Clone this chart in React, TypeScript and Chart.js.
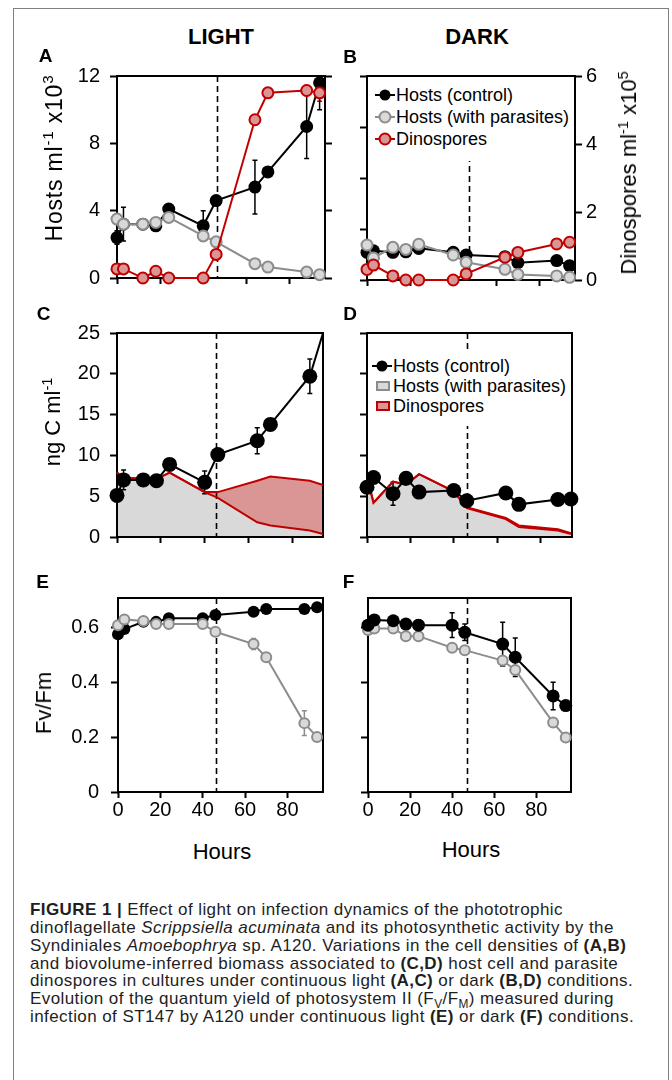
import React, { useEffect, useRef } from "react";
import { Chart, registerables } from "chart.js";

Chart.register(...registerables);

const FONT = "'Liberation Sans', Arial, Helvetica, sans-serif";

// ---------- data ----------
const hours = [0, 3, 12, 18, 24, 40, 46, 64, 70, 88, 94];

// A: cell densities, light
const lightHostsControl = [2.4, 3.2, 3.2, 3.1, 4.1, 3.1, 4.6, 5.4, 6.3, 9.0, 11.6];
const lightHostsControlErr = [0.4, 1.0, 0.2, 0.3, 0.1, 0.9, 0.2, 1.6, 0.2, 1.9, 1.6];
const lightHostsParasites = [3.5, 3.2, 3.2, 3.3, 3.6, 2.5, 2.15, 0.85, 0.65, 0.35, 0.2];
const lightDinospores = [0.27, 0.27, 0, 0.2, 0, 0, 0.7, 4.7, 5.5, 5.57, 5.5];
const lightDinosporesErr = [0, 0, 0, 0, 0, 0, 0, 0.15, 0, 0.15, 0.25];

// B: cell densities, dark
const darkHostsControl = [1.63, 1.72, 1.63, 1.66, 1.86, 1.63, 1.47, 1.37, 1.02, 1.14, 0.84];
const darkHostsParasites = [2.06, 1.3, 1.92, 1.8, 2.1, 1.47, 1.04, 0.63, 0.33, 0.24, 0.16];
const darkDinospores = [0.31, 0.44, 0.12, 0, 0, 0, 0.18, 0.67, 0.81, 1.06, 1.11];

// C: biomass, light
const lightBiomassControl = [5.1, 7.0, 7.0, 6.9, 8.9, 6.7, 10.1, 11.8, 13.8, 19.7, 25];
const lightBiomassControlErr = [0, 1.2, 0, 0, 0.3, 1.4, 0, 1.6, 0, 2.1, 0];
const lightBiomassParasites = [7.9, 7.2, 7.2, 7.1, 7.9, 5.5, 4.8, 1.8, 1.4, 0.8, 0.37];
const lightBiomassDinospores = [0, 0, 0, 0, 0, 0, 0.7, 5.1, 6.0, 6.1, 6.0];

// D: biomass, dark
const darkBiomassControl = [6.1, 7.3, 5.3, 7.2, 5.5, 5.7, 4.45, 5.4, 4.0, 4.6, 4.65];
const darkBiomassControlErr = [0, 0, 1.4, 0.7, 0, 0, 0, 0, 0, 0, 0];
const darkBiomassParasites = [7.4, 4.2, 6.8, 6.4, 7.7, 5.6, 3.55, 2.2, 1.22, 0.8, 0.37];
const darkBiomassDinospores = [0, 0, 0, 0, 0, 0, 0.1, 0.15, 0.2, 0.15, 0.1];

// E: Fv/Fm, light
const lightFvFmControl = [0.575, 0.594, 0.62, 0.62, 0.633, 0.633, 0.645, 0.657, 0.667, 0.667, 0.673];
const lightFvFmControlErr = [0, 0, 0, 0, 0.01, 0, 0, 0, 0, 0, 0];
const lightFvFmParasites = [0.608, 0.629, 0.623, 0.612, 0.612, 0.612, 0.584, 0.539, 0.491, 0.251, 0.2];
const lightFvFmParasitesErr = [0, 0, 0, 0, 0.012, 0.015, 0, 0.02, 0, 0.045, 0];

// F: Fv/Fm, dark
const darkFvFmControl = [0.608, 0.627, 0.624, 0.612, 0.608, 0.608, 0.582, 0.539, 0.491, 0.35, 0.315];
const darkFvFmControlErr = [0, 0, 0, 0, 0.02, 0.045, 0.03, 0.08, 0.07, 0.05, 0];
const darkFvFmParasites = [0.59, 0.596, 0.596, 0.568, 0.568, 0.526, 0.517, 0.479, 0.445, 0.253, 0.199];
const darkFvFmParasitesErr = [0, 0, 0, 0, 0, 0, 0, 0, 0.012, 0, 0];

// time of the dashed marker line in each panel
const markerHourA = 46.4;
const markerHourB = 47.5;
const markerHourC = 45.2;
const markerHourD = 46.2;
const markerHourE = 46.1;
const markerHourF = 46.9;

// ---------- styles ----------
const BLACK = "#000000";
const GREY_LINE = "#8c8c8c";
const GREY_FILL = "#d9d9d9";
const RED = "#c00000";
const RED_FILL = "#d99694";

const pts = (ys: number[]) => hours.map((h, i) => ({ x: h, y: ys[i] }));

function blackSeries(label: string, ys: number[], errs: number[] | null, r: any, yAxisID = "y") {
  return {
    label, data: pts(ys), yAxisID, borderColor: BLACK, backgroundColor: BLACK, borderWidth: 2,
    pointRadius: r, pointBackgroundColor: BLACK, pointBorderColor: BLACK, pointBorderWidth: 0,
    fill: false, clip: false, errors: errs, errorColor: BLACK,
  };
}
function greySeries(label: string, ys: number[], errs: number[] | null, r: number, yAxisID = "y") {
  return {
    label, data: pts(ys), yAxisID, borderColor: GREY_LINE, backgroundColor: GREY_FILL, borderWidth: 2,
    pointRadius: r, pointBackgroundColor: GREY_FILL, pointBorderColor: GREY_LINE, pointBorderWidth: 2,
    fill: false, clip: false, errors: errs, errorColor: GREY_LINE,
  };
}
function redSeries(label: string, ys: number[], errs: number[] | null, r: number, yAxisID = "y2") {
  return {
    label, data: pts(ys), yAxisID, borderColor: RED, backgroundColor: RED_FILL, borderWidth: 2,
    pointRadius: r, pointBackgroundColor: RED_FILL, pointBorderColor: RED, pointBorderWidth: 2,
    fill: false, clip: false, errors: errs, errorColor: RED,
  };
}

// ---------- plugins ----------
const framePlugin = {
  id: "frame",
  beforeDatasetsDraw(chart: any) {
    const { ctx, chartArea: a } = chart;
    ctx.save();
    ctx.strokeStyle = BLACK;
    ctx.lineWidth = 2;
    ctx.strokeRect(a.left, a.top, a.right - a.left, a.bottom - a.top);
    ctx.restore();
  },
};

const vlinePlugin = {
  id: "vline",
  beforeDatasetsDraw(chart: any, _args: any, opts: any) {
    if (!opts || opts.x == null) return;
    const { ctx, chartArea: a } = chart;
    const x = Math.round(chart.scales.x.getPixelForValue(opts.x)) + 0.5;
    ctx.save();
    ctx.strokeStyle = BLACK;
    ctx.lineWidth = 1.6;
    ctx.setLineDash([6, 4]);
    ctx.beginPath();
    ctx.moveTo(x, a.top);
    ctx.lineTo(x, a.bottom);
    ctx.stroke();
    ctx.restore();
  },
};

const errorPlugin = {
  id: "errorBars",
  beforeDatasetsDraw(chart: any) {
    const { ctx, chartArea: a } = chart;
    chart.data.datasets.forEach((ds: any, i: number) => {
      if (!ds.errors) return;
      const meta = chart.getDatasetMeta(i);
      const ys = chart.scales[meta.yAxisID];
      ctx.save();
      ctx.beginPath();
      ctx.rect(a.left - 10, a.top, a.right - a.left + 20, a.bottom - a.top);
      ctx.clip();
      ctx.strokeStyle = ds.errorColor || BLACK;
      ctx.lineWidth = 1.5;
      meta.data.forEach((el: any, j: number) => {
        const e = ds.errors[j];
        if (!e) return;
        const v = ds.data[j].y;
        const top = ys.getPixelForValue(v + e);
        const bot = ys.getPixelForValue(v - e);
        ctx.beginPath();
        ctx.moveTo(el.x, top); ctx.lineTo(el.x, bot);
        ctx.moveTo(el.x - 2.5, top); ctx.lineTo(el.x + 2.5, top);
        ctx.moveTo(el.x - 2.5, bot); ctx.lineTo(el.x + 2.5, bot);
        ctx.stroke();
      });
      ctx.restore();
    });
  },
};

// ---------- config builder ----------
type Rect = { l: number; t: number; w: number; h: number };
type Plot = { l: number; t: number; r: number; b: number };
type AxisSpec = { min: number; max: number; step: number; labels: boolean; padding?: number };
type PanelSpec = {
  canvas: Rect; plot: Plot; xMax: number; xLabels: boolean;
  y: AxisSpec; y2?: AxisSpec; vline: number; datasets: any[];
};

const tickFont = { family: FONT, size: 20 };

function yAxis(spec: AxisSpec, position: string, width: number) {
  return {
    type: "linear", position, min: spec.min, max: spec.max,
    afterFit: (s: any) => { s.width = width; },
    ticks: {
      stepSize: spec.step, includeBounds: false, display: spec.labels,
      font: tickFont, color: BLACK, padding: spec.padding ?? 10,
    },
    grid: { display: true, drawOnChartArea: false, drawTicks: true, tickLength: 7, tickWidth: 2, tickColor: BLACK },
    border: { display: false },
  };
}

function buildConfig(spec: PanelSpec) {
  const cr = spec.canvas.l + spec.canvas.w;
  const cb = spec.canvas.t + spec.canvas.h;
  const scales: any = {
    x: {
      type: "linear", min: 0, max: spec.xMax,
      afterFit: (s: any) => { s.height = cb - spec.plot.b; },
      ticks: {
        stepSize: 20, includeBounds: false, display: spec.xLabels, font: tickFont, color: BLACK,
        padding: 0, maxRotation: 0, autoSkip: false,
      },
      grid: { display: true, drawOnChartArea: false, drawTicks: true, tickLength: 6, tickWidth: 2, tickColor: BLACK },
      border: { display: false },
    },
    y: yAxis(spec.y, "left", spec.plot.l - spec.canvas.l),
  };
  if (spec.y2) scales.y2 = yAxis(spec.y2, "right", cr - spec.plot.r);
  return {
    type: "line",
    data: { datasets: spec.datasets },
    options: {
      responsive: false,
      animation: false,
      events: [],
      layout: {
        padding: { top: spec.plot.t - spec.canvas.t, left: 0, bottom: 0, right: spec.y2 ? 0 : cr - spec.plot.r },
      },
      elements: { line: { tension: 0 } },
      scales,
      plugins: {
        legend: { display: false },
        tooltip: { enabled: false },
        title: { display: false },
        filler: { drawTime: "beforeDatasetsDraw" },
        vline: { x: spec.vline },
      },
    },
    plugins: [framePlugin, vlinePlugin, errorPlugin],
  };
}

function Panel({ spec }: { spec: PanelSpec }) {
  const ref = useRef<HTMLCanvasElement>(null);
  useEffect(() => {
    const chart = new Chart(ref.current as any, buildConfig(spec) as any);
    return () => chart.destroy();
  }, []);
  const c = spec.canvas;
  return (
    <div style={{ position: "absolute", left: c.l, top: c.t, width: c.w, height: c.h }}>
      <canvas ref={ref} width={c.w} height={c.h} style={{ width: c.w, height: c.h, display: "block" }} />
    </div>
  );
}

// ---------- panels ----------
const lightBiomassTop = lightBiomassParasites.map((v, i) => v + lightBiomassDinospores[i]);
const darkBiomassTop = darkBiomassParasites.map((v, i) => v + darkBiomassDinospores[i]);
const lastHidden = (n: number, r: number) => hours.map((_, i) => (i === n - 1 ? 0 : r));

function areaSeries(label: string, ys: number[], fill: any, bg: string) {
  return {
    label, data: pts(ys), yAxisID: "y", borderColor: RED, backgroundColor: bg, borderWidth: 2,
    pointRadius: 0, fill, clip: false,
  };
}

const panelA: PanelSpec = {
  canvas: { l: 20, t: 50, w: 320, h: 250 }, plot: { l: 117, t: 76, r: 325, b: 280 },
  xMax: 96.5, xLabels: false,
  y: { min: 0, max: 12, step: 4, labels: true }, y2: { min: 0, max: 6, step: 2, labels: false },
  vline: markerHourA,
  datasets: [
    redSeries("Dinospores", lightDinospores, lightDinosporesErr, 5.5),
    greySeries("Hosts (with parasites)", lightHostsParasites, null, 5.5),
    blackSeries("Hosts (control)", lightHostsControl, lightHostsControlErr, 6.5),
  ],
};

const panelB: PanelSpec = {
  canvas: { l: 340, t: 50, w: 320, h: 250 }, plot: { l: 367, t: 76, r: 575, b: 280 },
  xMax: 96.5, xLabels: false,
  y: { min: 0, max: 12, step: 3, labels: false }, y2: { min: 0, max: 6, step: 2, labels: true, padding: 4 },
  vline: markerHourB,
  datasets: [
    redSeries("Dinospores", darkDinospores, null, 5.5),
    greySeries("Hosts (with parasites)", darkHostsParasites, null, 5.5),
    blackSeries("Hosts (control)", darkHostsControl, null, 6.5),
  ],
};

const panelC: PanelSpec = {
  canvas: { l: 20, t: 305, w: 320, h: 255 }, plot: { l: 117, t: 333, r: 323, b: 537 },
  xMax: 94, xLabels: false,
  y: { min: 0, max: 25, step: 5, labels: true },
  vline: markerHourC,
  datasets: [
    blackSeries("Hosts (control)", lightBiomassControl, lightBiomassControlErr, lastHidden(hours.length, 7.5)),
    areaSeries("Dinospores", lightBiomassTop, 2, RED_FILL),
    areaSeries("Hosts (with parasites)", lightBiomassParasites, "origin", GREY_FILL),
  ],
};

const panelD: PanelSpec = {
  canvas: { l: 340, t: 305, w: 320, h: 255 }, plot: { l: 367, t: 333, r: 572, b: 537 },
  xMax: 94.5, xLabels: false,
  y: { min: 0, max: 25, step: 5, labels: false },
  vline: markerHourD,
  datasets: [
    blackSeries("Hosts (control)", darkBiomassControl, darkBiomassControlErr, 7.5),
    areaSeries("Dinospores", darkBiomassTop, 2, RED_FILL),
    areaSeries("Hosts (with parasites)", darkBiomassParasites, "origin", GREY_FILL),
  ],
};

const panelE: PanelSpec = {
  canvas: { l: 20, t: 570, w: 320, h: 260 }, plot: { l: 118, t: 598, r: 323, b: 792 },
  xMax: 96.8, xLabels: true,
  y: { min: 0, max: 0.707, step: 0.2, labels: true, padding: 12 },
  vline: markerHourE,
  datasets: [
    greySeries("Hosts (with parasites)", lightFvFmParasites, lightFvFmParasitesErr, 5),
    blackSeries("Hosts (control)", lightFvFmControl, lightFvFmControlErr, 6),
  ],
};

const panelF: PanelSpec = {
  canvas: { l: 340, t: 570, w: 320, h: 260 }, plot: { l: 368, t: 598, r: 571, b: 792 },
  xMax: 96.5, xLabels: true,
  y: { min: 0, max: 0.707, step: 0.2, labels: false },
  vline: markerHourF,
  datasets: [
    blackSeries("Hosts (control)", darkFvFmControl, darkFvFmControlErr, 6.5),
    greySeries("Hosts (with parasites)", darkFvFmParasites, darkFvFmParasitesErr, 5),
  ],
};

// ---------- text helpers ----------
function Label({ x, y, size, bold, rotate, spacing, children }: any) {
  return (
    <div
      style={{
        position: "absolute", left: x, top: y,
        transform: `translate(-50%, -50%)${rotate ? " rotate(-90deg)" : ""}`,
        fontFamily: FONT, fontSize: size, fontWeight: bold ? 700 : 400,
        lineHeight: `${size}px`, whiteSpace: "nowrap", color: BLACK,
        letterSpacing: spacing ? `${spacing}px` : undefined,
      }}
    >
      {children}
    </div>
  );
}

const supStyle: any = { fontSize: "0.66em", verticalAlign: "0.55em", lineHeight: 0 };

function CircleMarker({ cx, cy, fill, stroke }: any) {
  return (
    <svg width={20} height={16} style={{ position: "absolute", left: cx - 10, top: cy - 8 }}>
      <line x1={0} y1={8} x2={20} y2={8} stroke={stroke} strokeWidth={2} />
      <circle cx={10} cy={8} r={5.5} fill={fill} stroke={stroke} strokeWidth={fill === BLACK ? 0 : 2} />
    </svg>
  );
}
function BoxMarker({ x, cy, fill, stroke }: any) {
  return (
    <div
      style={{
        position: "absolute", left: x, top: cy - 5, width: 14, height: 10,
        background: fill, border: `2px solid ${stroke}`, boxSizing: "border-box",
      }}
    />
  );
}
function LegendText({ x, cy, children }: any) {
  return (
    <div
      style={{
        position: "absolute", left: x, top: cy - 9, fontFamily: FONT, fontSize: 18,
        lineHeight: "18px", whiteSpace: "nowrap", color: BLACK,
      }}
    >
      {children}
    </div>
  );
}

const subStyle: any = { fontSize: "0.7em", lineHeight: 0 };
const captionLines = [
  <><b>FIGURE 1 |</b> Effect of light on infection dynamics of the phototrophic</>,
  <>dinoflagellate <i>Scrippsiella acuminata</i> and its photosynthetic activity by the</>,
  <>Syndiniales <i>Amoebophrya</i> sp. A120. Variations in the cell densities of <b>(A,B)</b></>,
  <>and biovolume-inferred biomass associated to <b>(C,D)</b> host cell and parasite</>,
  <>dinospores in cultures under continuous light <b>(A,C)</b> or dark <b>(B,D)</b> conditions.</>,
  <>Evolution of the quantum yield of photosystem II (F<sub style={subStyle}>V</sub>/F<sub style={subStyle}>M</sub>) measured during</>,
  <>infection of ST147 by A120 under continuous light <b>(E)</b> or dark <b>(F)</b> conditions.</>,
];

export default function App() {
  return (
    <div style={{ position: "absolute", left: 0, top: 0, width: 672, height: 1080, overflow: "hidden", background: "#fff" }}>
      <div
        style={{
          position: "absolute", left: 13, top: 8, width: 656, height: 1100, boxSizing: "border-box",
          borderTop: "1px solid #808080", borderLeft: "1px solid #808080", borderRight: "1px solid #808080",
        }}
      />
      <Panel spec={panelA} />
      <Panel spec={panelB} />
      <Panel spec={panelC} />
      <Panel spec={panelD} />
      <Panel spec={panelE} />
      <Panel spec={panelF} />

      <Label x={221} y={37} size={22} bold>LIGHT</Label>
      <Label x={477} y={37} size={22} bold>DARK</Label>
      <Label x={45.5} y={55} size={19} bold>A</Label>
      <Label x={350} y={56} size={19} bold>B</Label>
      <Label x={43.5} y={312.5} size={19} bold>C</Label>
      <Label x={350} y={313} size={19} bold>D</Label>
      <Label x={42.5} y={580.5} size={19} bold>E</Label>
      <Label x={348.5} y={580.5} size={19} bold>F</Label>

      <Label x={53.5} y={158} size={23} rotate spacing={0.8}>Hosts ml<span style={supStyle}>-1</span> x10<span style={supStyle}>3</span></Label>
      <Label x={629} y={173} size={22} rotate>Dinospores ml<span style={supStyle}>-1</span> x10<span style={supStyle}>5</span></Label>
      <Label x={53} y={422} size={22} rotate>ng C ml<span style={supStyle}>-1</span></Label>
      <Label x={44} y={703} size={22} rotate>Fv/Fm</Label>
      <Label x={222} y={851.5} size={22}>Hours</Label>
      <Label x={471} y={849.5} size={22}>Hours</Label>

      {/* legend B */}
      <div style={{ position: "absolute", left: 371, top: 77, width: 202, height: 84, background: "#fff" }} />
      <CircleMarker cx={385} cy={95} fill={BLACK} stroke={BLACK} />
      <LegendText x={396} cy={95}>Hosts (control)</LegendText>
      <CircleMarker cx={385} cy={117} fill={GREY_FILL} stroke={GREY_LINE} />
      <LegendText x={396} cy={117}>Hosts (with parasites)</LegendText>
      <CircleMarker cx={385} cy={139} fill={RED_FILL} stroke={RED} />
      <LegendText x={396} cy={139}>Dinospores</LegendText>

      {/* legend D */}
      <div style={{ position: "absolute", left: 371, top: 349, width: 199, height: 77, background: "#fff" }} />
      <CircleMarker cx={382} cy={366} fill={BLACK} stroke={BLACK} />
      <LegendText x={393} cy={366}>Hosts (control)</LegendText>
      <BoxMarker x={376} cy={386} fill={GREY_FILL} stroke={GREY_LINE} />
      <LegendText x={393} cy={386}>Hosts (with parasites)</LegendText>
      <BoxMarker x={376} cy={406} fill={RED_FILL} stroke={RED} />
      <LegendText x={393} cy={406}>Dinospores</LegendText>

      {/* caption */}
      {captionLines.map((line, i) => (
        <div
          key={i}
          style={{
            position: "absolute", left: 30, top: 909.3 + 17.9 * i - 9.5, fontFamily: FONT, fontSize: 17,
            lineHeight: "19px", letterSpacing: "0.42px", whiteSpace: "nowrap", color: "#1e1e1e",
          }}
        >
          {line}
        </div>
      ))}
    </div>
  );
}
